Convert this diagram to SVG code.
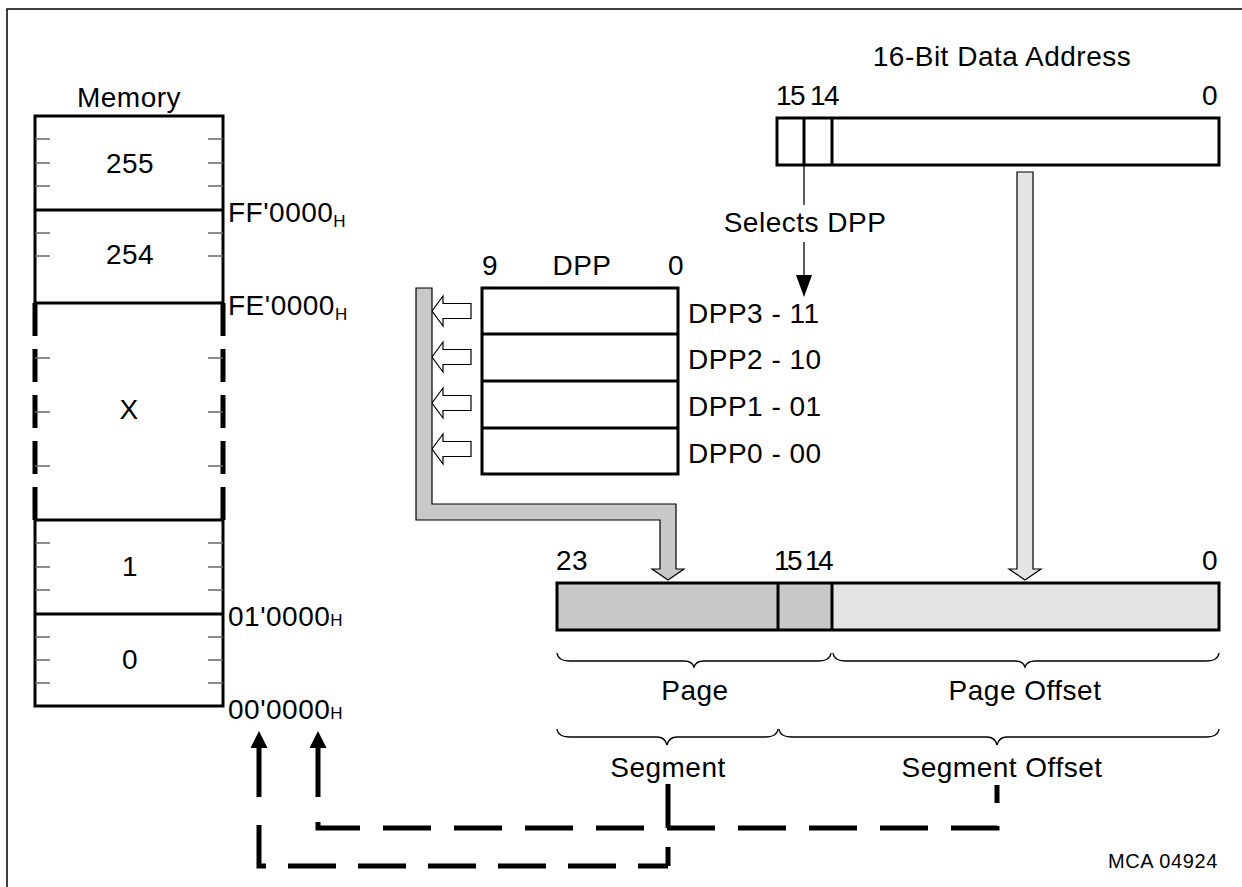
<svg xmlns="http://www.w3.org/2000/svg" width="1242" height="887" viewBox="0 0 1242 887">
<style>
text{font-family:"Liberation Sans",Arial,sans-serif;font-size:28px;letter-spacing:0.5px;fill:#000}
.c{text-anchor:middle}
.e{text-anchor:end}
.sub{font-size:17px;letter-spacing:0}
.box{fill:#fff;stroke:#000;stroke-width:3}
.tick{stroke:#666;stroke-width:1.5}
.thick{stroke:#000;stroke-width:3;fill:none}
.dashside{stroke:#000;stroke-width:5;fill:none;stroke-dasharray:33 13}
.dash{stroke:#000;stroke-width:5;fill:none;stroke-dasharray:48 23}
.brace{stroke:#000;stroke-width:1.3;fill:none}
.hollow{fill:#fff;stroke:#000;stroke-width:1.2}
</style>
<defs>
<marker id="ah" markerWidth="17" markerHeight="17" refX="0" refY="8.5" orient="auto" markerUnits="userSpaceOnUse" viewBox="0 0 17 17"><path d="M0,0 L17,8.5 L0,17 Z" fill="#000"/></marker>
<marker id="ahs" markerWidth="22" markerHeight="16" refX="0" refY="8" orient="auto" markerUnits="userSpaceOnUse" viewBox="0 0 22 16"><path d="M0,0 L22,8 L0,16 Z" fill="#000"/></marker>
</defs>
<rect x="7" y="9" width="1240" height="885" fill="#fff" stroke="#000" stroke-width="1.5"/>

<g id="memory">
<text class="c" x="129" y="107">Memory</text>
<rect class="box" x="35" y="116" width="188" height="187"/>
<line class="thick" x1="35" y1="210" x2="223" y2="210"/>
<rect class="box" x="35" y="520" width="188" height="186"/>
<line class="thick" x1="35" y1="614" x2="223" y2="614"/>
<line class="dashside" x1="35" y1="303" x2="35" y2="520"/>
<line class="dashside" x1="223" y1="303" x2="223" y2="520"/>
<g class="tick">
<line x1="35" y1="139" x2="50" y2="139"/><line x1="208" y1="139" x2="223" y2="139"/>
<line x1="35" y1="163" x2="50" y2="163"/><line x1="208" y1="163" x2="223" y2="163"/>
<line x1="35" y1="186" x2="50" y2="186"/><line x1="208" y1="186" x2="223" y2="186"/>
<line x1="35" y1="233" x2="50" y2="233"/><line x1="208" y1="233" x2="223" y2="233"/>
<line x1="35" y1="256" x2="50" y2="256"/><line x1="208" y1="256" x2="223" y2="256"/>
<line x1="35" y1="358" x2="50" y2="358"/><line x1="208" y1="358" x2="223" y2="358"/>
<line x1="35" y1="412" x2="50" y2="412"/><line x1="208" y1="412" x2="223" y2="412"/>
<line x1="35" y1="466" x2="50" y2="466"/><line x1="208" y1="466" x2="223" y2="466"/>
<line x1="35" y1="543" x2="50" y2="543"/><line x1="208" y1="543" x2="223" y2="543"/>
<line x1="35" y1="567" x2="50" y2="567"/><line x1="208" y1="567" x2="223" y2="567"/>
<line x1="35" y1="590" x2="50" y2="590"/><line x1="208" y1="590" x2="223" y2="590"/>
<line x1="35" y1="637" x2="50" y2="637"/><line x1="208" y1="637" x2="223" y2="637"/>
<line x1="35" y1="660" x2="50" y2="660"/><line x1="208" y1="660" x2="223" y2="660"/>
<line x1="35" y1="683" x2="50" y2="683"/><line x1="208" y1="683" x2="223" y2="683"/>
</g>
<text class="c" x="130" y="173">255</text>
<text class="c" x="130" y="264">254</text>
<text class="c" x="129" y="419">X</text>
<text class="c" x="130" y="576">1</text>
<text class="c" x="130" y="669">0</text>
<text x="228" y="222">FF'0000<tspan class="sub" dy="5">H</tspan></text>
<text x="228" y="315">FE'0000<tspan class="sub" dy="5">H</tspan></text>
<text x="228" y="626">01'0000<tspan class="sub" dy="0">H</tspan></text>
<text x="228" y="719">00'0000<tspan class="sub" dy="0">H</tspan></text>
</g>

<g id="address16">
<text class="c" x="1002" y="66">16-Bit Data Address</text>
<text x="776" y="105" textLength="64" lengthAdjust="spacing">15 14</text>
<text class="e" x="1218" y="105">0</text>
<rect class="box" x="777" y="118" width="442" height="47"/>
<line class="thick" x1="804" y1="118" x2="804" y2="165"/>
<line class="thick" x1="832" y1="118" x2="832" y2="165"/>
</g>

<g id="dpp">
<text x="482" y="275">9</text>
<text class="c" x="582" y="275">DPP</text>
<text class="e" x="684" y="275">0</text>
<rect class="box" x="482" y="288" width="196" height="186"/>
<line class="thick" x1="482" y1="334" x2="678" y2="334"/>
<line class="thick" x1="482" y1="381" x2="678" y2="381"/>
<line class="thick" x1="482" y1="428" x2="678" y2="428"/>
<text x="688" y="323">DPP3 - 11</text>
<text x="688" y="369">DPP2 - 10</text>
<text x="688" y="416">DPP1 - 01</text>
<text x="688" y="463">DPP0 - 00</text>
<path class="hollow" d="M432,311 L443,296 L443,303.5 L471,303.5 L471,318.5 L443,318.5 L443,326 Z"/>
<path class="hollow" d="M432,357 L443,342 L443,349.5 L471,349.5 L471,364.5 L443,364.5 L443,372 Z"/>
<path class="hollow" d="M432,403 L443,388 L443,395.5 L471,395.5 L471,410.5 L443,410.5 L443,418 Z"/>
<path class="hollow" d="M432,449 L443,434 L443,441.5 L471,441.5 L471,456.5 L443,456.5 L443,464 Z"/>
</g>

<g id="segaddr">
<text x="556" y="570">23</text>
<text x="774" y="570" textLength="60" lengthAdjust="spacing">15 14</text>
<text class="e" x="1218" y="570">0</text>
<rect x="557" y="583" width="275" height="47" fill="#c8c8c8"/>
<rect x="832" y="583" width="387" height="47" fill="#e4e4e4"/>
<rect x="557" y="583" width="662" height="47" fill="none" stroke="#000" stroke-width="3"/>
<line class="thick" x1="778" y1="583" x2="778" y2="630"/>
<line class="thick" x1="832" y1="583" x2="832" y2="630"/>
</g>

<g id="braces">
<path class="brace" d="M557,653 Q558,661 570,661 H684 Q692,661 694,667 Q696,661 704,661 H818 Q830,661 831,653"/>
<path class="brace" d="M833,653 Q834,661 846,661 H1015 Q1023,661 1025,667 Q1027,661 1035,661 H1206 Q1218,661 1219,653"/>
<text class="c" x="695" y="700">Page</text>
<text class="c" x="1025" y="700">Page Offset</text>
<path class="brace" d="M557,729 Q558,737 570,737 H657 Q665,737 667,745 Q669,737 677,737 H765 Q777,737 778,729"/>
<path class="brace" d="M779,729 Q780,737 792,737 H987 Q995,737 997,745 Q999,737 1007,737 H1206 Q1218,737 1219,729"/>
<text class="c" x="668" y="777">Segment</text>
<text class="c" x="1002" y="777">Segment Offset</text>
</g>

<g id="connectors">
<polygon points="416,288 432,288 432,504 676,504 676,569 684,569 668,580 652,569 660,569 660,520 416,520" fill="#c8c8c8" stroke="#000" stroke-width="1.2"/>
<polygon points="1017,172 1033,172 1033,569 1041,569 1025,580 1009,569 1017,569" fill="#e4e4e4" stroke="#000" stroke-width="1.2"/>
<line x1="804" y1="165" x2="804" y2="205" stroke="#000" stroke-width="1.3"/>
<line x1="804" y1="242" x2="804" y2="275" stroke="#000" stroke-width="1.3" marker-end="url(#ahs)"/>
<text class="c" x="805" y="232">Selects DPP</text>
<line x1="668" y1="784" x2="668" y2="828" stroke="#000" stroke-width="5"/>
<path class="dash" d="M668,847 V866 H259 V818" style="stroke-dasharray:19 0 30 22 48 22 48 22 48 22 48 22 48 22 48 22 48 22"/>
<path class="dash" d="M997,785 V828 H318 V818" stroke-dashoffset="30"/>
<line x1="259" y1="797" x2="259" y2="748" stroke="#000" stroke-width="5" marker-end="url(#ah)"/>
<line x1="318" y1="797" x2="318" y2="748" stroke="#000" stroke-width="5" marker-end="url(#ah)"/>
</g>

<text x="1108" y="868" style="font-size:20px;letter-spacing:0.6px">MCA 04924</text>
</svg>
